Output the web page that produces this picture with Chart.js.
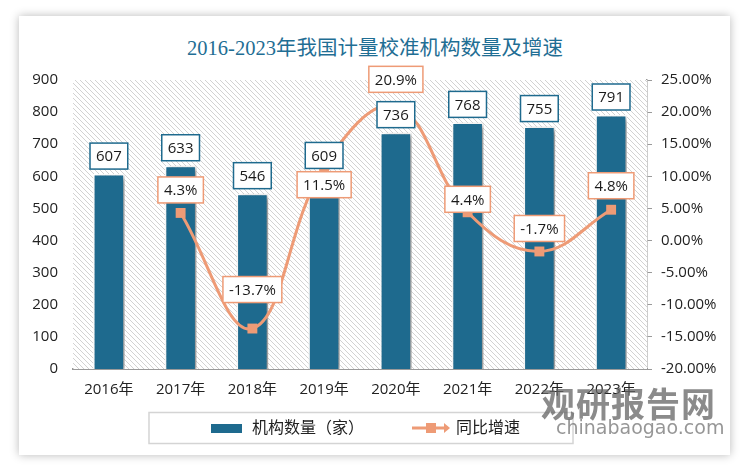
<!DOCTYPE html>
<html>
<head>
<meta charset="utf-8">
<script src="https://cdn.jsdelivr.net/npm/chart.js@4.4.1/dist/chart.umd.min.js"></script>
<style>
  html, body { margin: 0; padding: 0; background: #fff; }
  #wrap { position: relative; width: 750px; height: 472px; overflow: hidden; }
  #card { position: absolute; left: 19px; top: 16px; width: 711px; height: 439px; background: #fff;
          box-shadow: 0 0 9px rgba(0,0,0,0.28); }
  #title { position: absolute; left: 0; width: 750px; top: 31px; text-align: center;
           font: 20.5px "Liberation Serif", "Noto Sans CJK SC", serif; color: #1F6E94; }
  canvas { position: absolute; left: 0; top: 0; }
  #wm1 { position: absolute; left: 541px; top: 378px; font: bold 34px "Noto Sans CJK SC", sans-serif;
         color: rgba(100,100,100,0.75); letter-spacing: 1px; }
  #wm2 { position: absolute; left: 556px; top: 416px; font: 19px "DejaVu Sans", sans-serif;
         color: rgba(110,110,110,0.72); }
</style>
</head>
<body>
<div id="wrap">
  <div id="card"></div>
  <div id="title">2016-2023年我国计量校准机构数量及增速</div>
  <canvas id="chart" width="750" height="472"></canvas>
  <div id="wm1">观研报告网</div>
  <div id="wm2">chinabaogao.com</div>
</div>
<script>
// data
const years = ['2016年', '2017年', '2018年', '2019年', '2020年', '2021年', '2022年', '2023年'];
const orgCount = [607, 633, 546, 609, 736, 768, 755, 791];
const growthRate = [null, 4.3, -13.7, 11.5, 20.9, 4.4, -1.7, 4.8];
const seriesNames = ['机构数量（家）', '同比增速'];

const BLUE = '#1E6A8E';
const ORANGE = '#EE9B76';
const FONT = '"Open Sans", "Noto Sans CJK SC", sans-serif';

// vertical offset of each growth label box centre from its point
const growthLabelShift = [0, -23, -39, 18, -27, -13, -23, -24];

// hatched plot background
function makeHatch() {
    const c = document.createElement('canvas');
    c.width = 5; c.height = 5;
    const g = c.getContext('2d');
    g.fillStyle = '#fff';
    g.fillRect(0, 0, 5, 5);
    g.strokeStyle = '#d2d2d2';
    g.lineWidth = 1;
    g.beginPath();
    g.moveTo(-1, -1); g.lineTo(6, 6);
    g.moveTo(-1, 4); g.lineTo(1, 6);
    g.moveTo(4, -1); g.lineTo(6, 1);
    g.stroke();
    return c;
}

// legend swatches
function barSwatch() {
    const c = document.createElement('canvas');
    c.width = 31; c.height = 9;
    const g = c.getContext('2d');
    g.fillStyle = BLUE;
    g.fillRect(0, 0, 31, 9);
    return c;
}
function lineSwatch() {
    const c = document.createElement('canvas');
    c.width = 38; c.height = 12;
    const g = c.getContext('2d');
    g.strokeStyle = ORANGE;
    g.lineWidth = 3;
    g.beginPath(); g.moveTo(0, 6); g.lineTo(34, 6); g.stroke();
    g.fillStyle = ORANGE;
    g.fillRect(14, 1, 10, 10);
    g.beginPath(); g.moveTo(32, 1); g.lineTo(38, 6); g.lineTo(32, 11); g.closePath(); g.fill();
    return c;
}

const plotBackground = {
    id: 'plotBackground',
    beforeDatasetsDraw(chart) {
        const { ctx, chartArea: a } = chart;
        ctx.save();
        ctx.fillStyle = ctx.createPattern(makeHatch(), 'repeat');
        ctx.fillRect(a.left, a.top, a.right - a.left, a.bottom - a.top);
        ctx.restore();
    },
    beforeDatasetDraw(chart, args) {
        if (args.meta.type === 'bar') {
            chart.ctx.save();
            chart.ctx.shadowColor = 'rgba(0,0,0,0.45)';
            chart.ctx.shadowBlur = 5;
            chart.ctx.shadowOffsetX = 3;
            chart.ctx.shadowOffsetY = 2;
        }
    },
    afterDatasetDraw(chart, args) {
        if (args.meta.type === 'bar') chart.ctx.restore();
    }
};

function drawBox(ctx, text, cx, cy, border) {
    ctx.font = '15px ' + FONT;
    const w = ctx.measureText(text).width + 12;
    const h = 26;
    ctx.fillStyle = '#fff';
    ctx.fillRect(cx - w / 2, cy - h / 2, w, h);
    ctx.strokeStyle = border;
    ctx.lineWidth = 1.5;
    ctx.strokeRect(cx - w / 2, cy - h / 2, w, h);
    ctx.fillStyle = '#1a1a1a';
    ctx.textAlign = 'center';
    ctx.textBaseline = 'middle';
    ctx.fillText(text, cx, cy + 1);
}

const valueBoxes = {
    id: 'valueBoxes',
    afterDatasetsDraw(chart) {
        const ctx = chart.ctx;
        ctx.save();
        chart.getDatasetMeta(0).data.forEach((bar, i) => {
            drawBox(ctx, String(orgCount[i]), bar.x, bar.y - 18, BLUE);
        });
        chart.getDatasetMeta(1).data.forEach((pt, i) => {
            if (growthRate[i] === null) return;
            drawBox(ctx, growthRate[i].toFixed(1) + '%', pt.x, pt.y + growthLabelShift[i], ORANGE);
        });
        ctx.restore();
    },
    afterDraw(chart) {
        const boxes = chart.legend.legendHitBoxes;
        if (!boxes || !boxes.length) return;
        const left = Math.min(...boxes.map(b => b.left)) - 61;
        const last = boxes[boxes.length - 1];
        const ctx = chart.ctx;
        ctx.font = '16px ' + FONT;
        const right = last.left + 42 + ctx.measureText(seriesNames[1]).width + 53;
        const cy = boxes[0].top + boxes[0].height / 2;
        ctx.save();
        ctx.strokeStyle = '#d4d4d4';
        ctx.lineWidth = 1.5;
        ctx.strokeRect(left, cy - 15.5, right - left, 31);
        ctx.restore();
    }
};

const ctx = document.getElementById('chart').getContext('2d');
new Chart(ctx, {
    data: {
        labels: years,
        datasets: [
            {
                type: 'bar',
                label: seriesNames[0],
                data: orgCount,
                yAxisID: 'y',
                backgroundColor: BLUE,
                borderColor: '#fff',
                borderWidth: 1.5,
                categoryPercentage: 1,
                barPercentage: 0.44,
                order: 2
            },
            {
                type: 'line',
                label: seriesNames[1],
                data: growthRate,
                yAxisID: 'y1',
                borderColor: ORANGE,
                backgroundColor: ORANGE,
                borderWidth: 3,
                tension: 0.4,
                pointStyle: 'rect',
                pointRadius: 7,
                pointBorderWidth: 0,
                order: 1
            }
        ]
    },
    options: {
        responsive: false,
        animation: false,
        layout: { padding: { top: 80, left: 0, right: 20, bottom: 26 } },
        plugins: {
            title: { display: false },
            tooltip: { enabled: false },
            legend: {
                position: 'bottom',
                labels: {
                    usePointStyle: true,
                    pointStyleWidth: 34,
                    padding: 10,
                    color: '#222',
                    font: { size: 16, family: FONT },
                    generateLabels: function() {
                        // trailing ideographic spaces widen the gap between the two items
                        return [
                            { text: seriesNames[0] + '\u3000\u3000\u3000', pointStyle: barSwatch(), datasetIndex: 0, lineWidth: 0, fontColor: '#222' },
                            { text: seriesNames[1], pointStyle: lineSwatch(), datasetIndex: 1, lineWidth: 0, fontColor: '#222' }
                        ];
                    }
                }
            }
        },
        scales: {
            x: {
                grid: { display: false, drawTicks: false },
                border: { display: true, color: '#9a9a9a', width: 2 },
                ticks: { color: '#222', font: { size: 15, family: FONT }, padding: 12, maxRotation: 0 },
                afterFit: function(axis) { axis.height = 41; }
            },
            y: {
                position: 'left',
                min: 0,
                max: 900,
                grid: { display: false, drawTicks: false },
                border: { display: false },
                ticks: { stepSize: 100, color: '#222', font: { size: 15, family: FONT }, padding: 15 },
                afterFit: function(axis) { axis.width = 73; }
            },
            y1: {
                position: 'right',
                min: -20,
                max: 25,
                grid: { drawOnChartArea: false, drawTicks: true, tickLength: 5, color: '#9a9a9a' },
                border: { display: true, color: '#9a9a9a', width: 1.5 },
                ticks: {
                    stepSize: 5,
                    color: '#222',
                    font: { size: 15, family: FONT },
                    padding: 9,
                    callback: function(value) { return value.toFixed(2) + '%'; }
                },
                afterFit: function(axis) { axis.width = 83; }
            }
        }
    },
    plugins: [plotBackground, valueBoxes]
});
</script>
</body>
</html>
